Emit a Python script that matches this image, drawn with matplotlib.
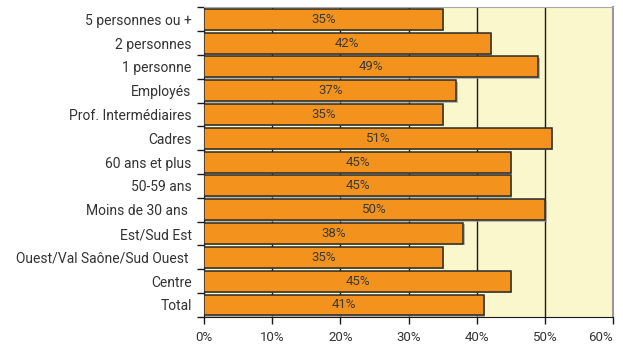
import matplotlib
matplotlib.use("Agg")
import matplotlib.pyplot as plt
import matplotlib.patheffects as pe
from matplotlib.ticker import FuncFormatter, FixedLocator

# categories from top to bottom
labels = ["5 personnes ou +", "2 personnes", "1 personne", "Employés",
          "Prof. Intermédiaires", "Cadres", "60 ans et plus", "50-59 ans",
          "Moins de 30 ans ", "Est/Sud Est", "Ouest/Val Saône/Sud Ouest ",
          "Centre", "Total"]
values = [35, 42, 49, 37, 35, 51, 45, 45, 50, 38, 35, 45, 41]

plt.rcParams["font.family"] = ["Roboto", "DejaVu Sans"]

fig = plt.figure(figsize=(6.23, 3.49), dpi=100)
ax = fig.add_axes([0.3275, 0.092, 0.657, 0.887])
ax.set_facecolor("#fbf7cd")

n = len(labels)
ypos = list(range(n - 1, -1, -1))
bars = ax.barh(ypos, values, height=0.88, color="#f4921e", edgecolor="#2b2b2b",
               linewidth=1.1, zorder=3)
for b in bars:
    b.set_path_effects([pe.SimplePatchShadow(offset=(1.0, -1.0), shadow_rgbFace="#999999", alpha=0.7),
                        pe.Normal()])
for y, v in zip(ypos, values):
    ax.text(v / 2, y, f"{v}%", ha="center", va="center", fontsize=9.5,
            color="#3a3a3a", zorder=4)

ax.set_xlim(0, 60)
ax.set_ylim(-0.5, n - 0.5)
ax.set_xticks(range(0, 61, 10))
ax.xaxis.set_major_formatter(FuncFormatter(lambda x, p: f"{int(x)}%"))
ax.xaxis.grid(True, color="#1a1a1a", linewidth=1.0, zorder=1)
ax.set_axisbelow(True)

ax.set_yticks(ypos)
ax.set_yticklabels(labels)
ax.yaxis.set_minor_locator(FixedLocator([i - 0.5 for i in range(n + 1)]))
ax.tick_params(axis="y", which="major", length=0, pad=9, labelsize=10, labelcolor="#333333")
ax.tick_params(axis="y", which="minor", length=5, width=1, color="#1a1a1a")
ax.tick_params(axis="x", length=5, width=1, color="#1a1a1a", labelsize=9.5,
               labelcolor="#333333", pad=5)
xt = ax.get_xticklabels()
xt[0].set_ha("center")
xt[-1].set_ha("right")
xt[-1].set_x(60)

ax.spines["left"].set_color("#1a1a1a")
ax.spines["bottom"].set_color("#1a1a1a")
ax.spines["top"].set_color("#aaaaaa")
ax.spines["right"].set_color("#999999")
ax.spines["right"].set_linewidth(1.5)

fig.savefig("out.png", dpi=100)
